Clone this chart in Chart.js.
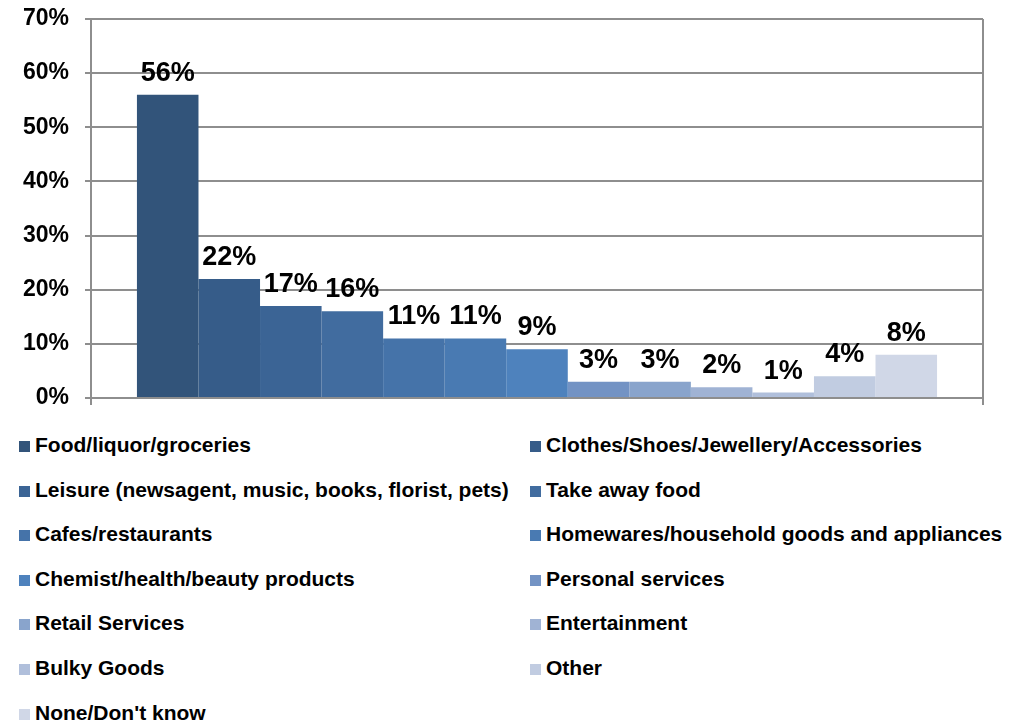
<!DOCTYPE html>
<html>
<head>
<meta charset="utf-8">
<script src="https://cdn.jsdelivr.net/npm/chart.js@4/dist/chart.umd.min.js"></script>
<style>
  body { margin: 0; background: #fff; font-family: "Liberation Sans", Arial, sans-serif; }
  #wrap { position: relative; width: 1027px; height: 722px; }
  #chartBox { position: absolute; left: 0; top: 0; width: 1027px; height: 420px; }
  #legend { position: absolute; left: 0; top: 423px; width: 1027px; }
  .item { position: absolute; height: 44px; line-height: 44px; font-weight: bold; font-size: 21px; color: #000; white-space: nowrap; }
  .item span.box { display: inline-block; width: 11px; height: 11px; margin-right: 5px; vertical-align: 0px; }
</style>
</head>
<body>
<div id="wrap">
  <div id="chartBox"><canvas id="shopChart"></canvas></div>
  <div id="legend"></div>
</div>
<script>
// Share of respondents by type of shopping (%)
const categories = [
  "Food/liquor/groceries",
  "Clothes/Shoes/Jewellery/Accessories",
  "Leisure (newsagent, music, books, florist, pets)",
  "Take away food",
  "Cafes/restaurants",
  "Homewares/household goods and appliances",
  "Chemist/health/beauty products",
  "Personal services",
  "Retail Services",
  "Entertainment",
  "Bulky Goods",
  "Other",
  "None/Don't know"
];
const shares = [56, 22, 17, 16, 11, 11, 9, 3, 3, 2, 1, 4, 8];
const yTicks = [0, 10, 20, 30, 40, 50, 60, 70];

const barColors = [
  "#32547a", "#365c89", "#3b6495", "#416c9f", "#4573a9", "#497ab2", "#4e82bd",
  "#7393c4", "#89a4cc", "#a0b3d4", "#b0bfdb", "#c1cce1", "#d0d7e7"
];

// value labels above each bar
const valueLabels = {
  id: 'valueLabels',
  afterDatasetsDraw(chart) {
    const ctx = chart.ctx;
    ctx.save();
    ctx.font = 'bold 27px "Liberation Sans", Arial, sans-serif';
    ctx.fillStyle = '#000';
    ctx.textAlign = 'center';
    ctx.textBaseline = 'alphabetic';
    chart.data.datasets.forEach((ds, i) => {
      const bar = chart.getDatasetMeta(i).data[0];
      ctx.fillText(ds.data[0] + '%', bar.x, bar.y - 14);
    });
    ctx.restore();
  }
};

const gridGrey = '#8e8e8e';

new Chart(document.getElementById('shopChart'), {
  type: 'bar',
  data: {
    labels: [''],
    datasets: categories.map((name, i) => ({
      label: name,
      data: [shares[i]],
      backgroundColor: barColors[i],
      borderWidth: 0,
      categoryPercentage: 0.897,
      barPercentage: 1
    }))
  },
  options: {
    responsive: true,
    maintainAspectRatio: false,
    animation: false,
    layout: { padding: { top: 19, right: 44, left: 0, bottom: 0 } },
    plugins: { legend: { display: false }, tooltip: { enabled: false } },
    scales: {
      x: {
        offset: true,
        grid: { display: true, offset: true, color: gridGrey, lineWidth: 2, tickLength: 7 },
        border: { display: true, color: gridGrey, width: 2 },
        ticks: { display: false },
        afterFit: (s) => { s.height = 22; }
      },
      y: {
        min: 0,
        max: 70,
        afterBuildTicks: (s) => { s.ticks = yTicks.map(v => ({ value: v })); },
        grid: { color: gridGrey, lineWidth: 2, tickLength: 6 },
        border: { display: true, color: gridGrey, width: 2 },
        ticks: {
          padding: 16,
          color: '#000',
          font: { family: '"Liberation Sans", Arial, sans-serif', size: 23, weight: 'bold' },
          callback: (v) => v + '%'
        },
        afterFit: (s) => {
          s.width = 91;
          s.paddingTop = 0;
          s.paddingBottom = 0;
        }
      }
    }
  },
  plugins: [valueLabels]
});

// two-column legend underneath the chart
const legendEl = document.getElementById('legend');
categories.forEach((name, i) => {
  const item = document.createElement('div');
  item.className = 'item';
  item.style.left = (i % 2 === 0 ? 19 : 530) + 'px';
  item.style.top = (Math.floor(i / 2) * 44.6) + 'px';
  item.innerHTML = '<span class="box" style="background:' + barColors[i] + '"></span>';
  item.appendChild(document.createTextNode(name));
  legendEl.appendChild(item);
});
</script>
</body>
</html>
